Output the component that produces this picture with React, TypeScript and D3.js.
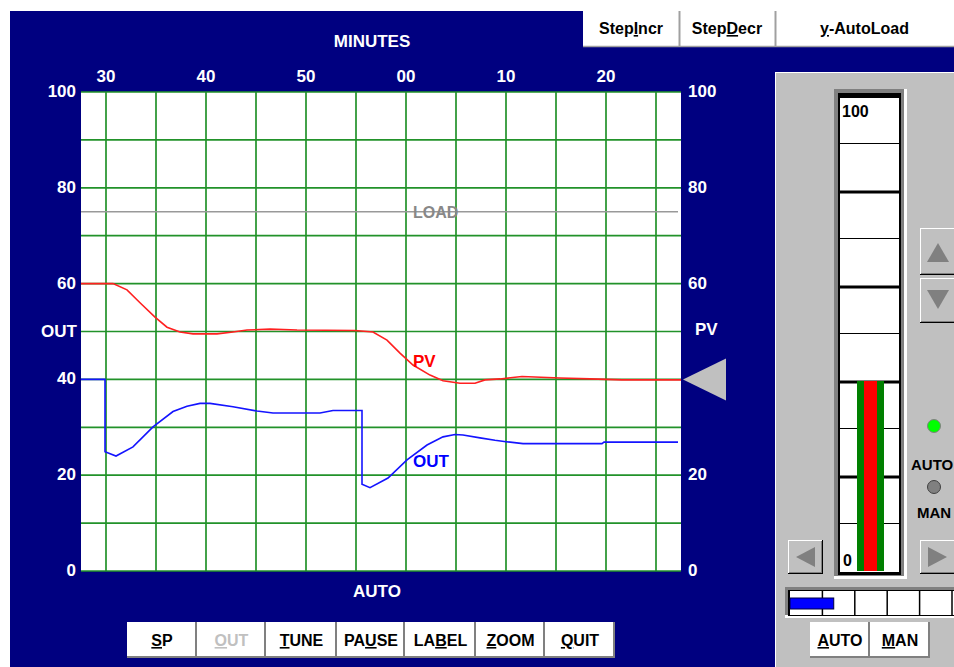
import { useEffect, useRef } from "react";
import * as d3 from "d3";

// time in minutes; values past 60 belong to the next hour (00, 10, 20)
const pvTime = [27.5, 30.7, 32.1, 33.4, 34.9, 36.1, 37.4, 38.7, 41.1, 42.7, 44.1, 46.4, 49.1, 54.9, 56.7, 58.1, 59.4, 60.7, 62.4, 63.7, 65.4, 66.9, 67.9, 69.4, 71.6, 75.4, 78.4, 81.6, 87.5];
const pvValue = [60, 60, 58.7, 56.0, 53.0, 50.9, 49.9, 49.5, 49.5, 49.9, 50.3, 50.5, 50.3, 50.2, 49.9, 48.2, 45.5, 43.0, 40.9, 39.7, 39.2, 39.2, 39.9, 40.1, 40.6, 40.3, 40.1, 39.9, 39.9];

const outTime = [27.5, 29.9, 29.9, 31.0, 32.7, 34.7, 36.7, 38.1, 39.4, 40.4, 42.7, 45.1, 46.7, 51.4, 52.7, 55.6, 55.6, 56.4, 58.2, 60.1, 62.1, 63.7, 64.9, 65.7, 67.4, 68.9, 70.0, 71.7, 79.6, 79.8, 87.2];
const outValue = [40, 40, 24.9, 24.0, 25.9, 30.1, 33.3, 34.4, 35.0, 35.0, 34.3, 33.4, 33.0, 33.0, 33.5, 33.5, 18.1, 17.4, 19.4, 23.2, 26.3, 28.0, 28.5, 28.4, 27.8, 27.3, 27.0, 26.6, 26.6, 26.9, 26.9];

const loadValue = 75;
const gaugeValue = 40;
const outBarValue = 27;

const minuteTicks = [30, 40, 50, 60, 70, 80];
const leftTicks = [0, 20, 40, 60, 80, 100];
const rightTicks = [0, 20, 60, 80, 100];

// label, index of the underlined letter, disabled
const topButtons: [string, number][] = [["StepIncr", 4], ["StepDecr", 4], ["y-AutoLoad", 0]];
const bottomButtons: [string, number, boolean][] = [
  ["SP", 0, false], ["OUT", 0, true], ["TUNE", 0, false], ["PAUSE", 2, false],
  ["LABEL", 2, false], ["ZOOM", 0, false], ["QUIT", 0, false],
];
const modeButtons: [string, number][] = [["AUTO", 0], ["MAN", 0]];

const FONT = "'Liberation Sans', Arial, sans-serif";
const NAVY = "#000080";
const GRID = "#22922a";

type Sel = d3.Selection<SVGGElement, unknown, null, undefined>;

function underlinedText(g: Sel, label: string, idx: number, x: number, y: number, size: number, fill: string) {
  const t = g
    .append("text")
    .attr("x", x)
    .attr("y", y)
    .attr("text-anchor", "middle")
    .attr("font-family", FONT)
    .attr("font-weight", "bold")
    .attr("font-size", size)
    .attr("fill", fill);
  if (idx > 0) t.append("tspan").text(label.slice(0, idx));
  t.append("tspan").style("text-decoration", "underline").text(label[idx]);
  t.append("tspan").text(label.slice(idx + 1));
}

function raised(g: Sel, x: number, y: number, w: number, h: number, face = "#c0c0c0") {
  g.append("rect").attr("x", x).attr("y", y).attr("width", w).attr("height", h).attr("fill", "#000");
  g.append("rect").attr("x", x).attr("y", y).attr("width", w - 1).attr("height", h - 1).attr("fill", "#fff");
  g.append("rect").attr("x", x + 1).attr("y", y + 1).attr("width", w - 2).attr("height", h - 2).attr("fill", "#808080");
  g.append("rect").attr("x", x + 1).attr("y", y + 1).attr("width", w - 3).attr("height", h - 3).attr("fill", face);
}

function sunken(g: Sel, x: number, y: number, w: number, h: number) {
  g.append("rect").attr("x", x).attr("y", y).attr("width", w).attr("height", h).attr("fill", "#fff");
  g.append("rect").attr("x", x).attr("y", y).attr("width", w - 3).attr("height", h - 3).attr("fill", "#808080");
}

export default function App() {
  const svgRef = useRef<SVGSVGElement>(null);

  useEffect(() => {
    if (!svgRef.current) return;
    d3.select(svgRef.current).selectAll("*").remove();
    const svg = d3.select(svgRef.current).append("g") as Sel;

    const x = d3.scaleLinear().domain([27.5, 87.5]).range([81, 681]);
    const y = d3.scaleLinear().domain([0, 100]).range([571, 92]);

    // background
    svg.append("rect").attr("x", 10).attr("y", 11).attr("width", 944).attr("height", 656).attr("fill", NAVY);

    // plot area
    svg.append("rect").attr("x", 81).attr("y", 92).attr("width", 600).attr("height", 479).attr("fill", "#fff");

    const grid = svg.append("g").attr("stroke", GRID).attr("stroke-width", 1.7);
    grid
      .selectAll("line.h")
      .data(d3.range(0, 101, 10))
      .enter()
      .append("line")
      .attr("x1", 81)
      .attr("x2", 681)
      .attr("y1", (d) => y(d))
      .attr("y2", (d) => y(d));
    grid
      .selectAll("line.v")
      .data(d3.range(30, 86, 5))
      .enter()
      .append("line")
      .attr("x1", (d) => x(d))
      .attr("x2", (d) => x(d))
      .attr("y1", 92)
      .attr("y2", 571);

    const label = (s: string, lx: number, ly: number, anchor = "start", fill = "#fff", size = 17) =>
      svg
        .append("text")
        .attr("x", lx)
        .attr("y", ly)
        .attr("text-anchor", anchor)
        .attr("font-family", FONT)
        .attr("font-weight", "bold")
        .attr("font-size", size)
        .attr("fill", fill)
        .text(s);

    label("MINUTES", 372, 47, "middle");
    minuteTicks.forEach((t) => label(String(t % 60).padStart(2, "0"), x(t), 82, "middle"));
    leftTicks.forEach((v) => label(String(v), 76, y(v) + 5, "end"));
    label("OUT", 77, y(50) + 5, "end");
    rightTicks.forEach((v) => label(String(v), 688, y(v) + 5));
    label("PV", 695, y(50) + 3);
    label("AUTO", 377, 597, "middle");

    // load line
    svg
      .append("line")
      .attr("x1", 81)
      .attr("x2", 678)
      .attr("y1", y(loadValue))
      .attr("y2", y(loadValue))
      .attr("stroke", "#999")
      .attr("stroke-width", 1.5);
    label("LOAD", 413, y(loadValue) + 6, "start", "#888", 16);

    const seriesLine = d3
      .line<[number, number]>()
      .x((d) => x(d[0]))
      .y((d) => y(d[1]));

    svg
      .append("path")
      .attr("d", seriesLine(pvTime.map((t, i) => [t, pvValue[i]])) || "")
      .attr("fill", "none")
      .attr("stroke", "#ff2020")
      .attr("stroke-width", 1.6);
    svg
      .append("path")
      .attr("d", seriesLine(outTime.map((t, i) => [t, outValue[i]])) || "")
      .attr("fill", "none")
      .attr("stroke", "#1414ff")
      .attr("stroke-width", 1.6);

    label("PV", 413, 367, "start", "#ff0000", 17);
    label("OUT", 413, 467, "start", "#0000ff", 17);

    // pointer triangle
    const py = y(gaugeValue);
    svg
      .append("path")
      .attr("d", `M683,${py} L726,${py - 21} L726,${py + 21} Z`)
      .attr("fill", "#c0c0c0");

    // top toolbar buttons
    const topEdges = [583, 679, 775, 954];
    svg.append("rect").attr("x", 583).attr("y", 11).attr("width", 371).attr("height", 36).attr("fill", "#fff");
    svg.append("line").attr("x1", 583).attr("x2", 954).attr("y1", 46.5).attr("y2", 46.5).attr("stroke", "#a0a0a0").attr("stroke-width", 1.5);
    topButtons.forEach(([s, idx], i) => {
      if (i > 0)
        svg
          .append("line")
          .attr("x1", topEdges[i] + 0.5)
          .attr("x2", topEdges[i] + 0.5)
          .attr("y1", 11)
          .attr("y2", 47)
          .attr("stroke", "#a0a0a0")
          .attr("stroke-width", 2);
      underlinedText(svg, s, idx, (topEdges[i] + topEdges[i + 1]) / 2, 34, 16, "#000");
    });

    // bottom buttons
    const botEdges = [127, 197, 266, 337, 405, 476, 545, 615];
    bottomButtons.forEach(([s, idx, disabled], i) => {
      const bx = botEdges[i];
      const w = botEdges[i + 1] - bx;
      svg.append("rect").attr("x", bx).attr("y", 622).attr("width", w).attr("height", 36).attr("fill", "#808080");
      svg.append("rect").attr("x", bx).attr("y", 622).attr("width", w - 2).attr("height", 34).attr("fill", "#fff");
      underlinedText(svg, s, idx, bx + w / 2, 646, 16, disabled ? "#c0c0c0" : "#000");
    });

    // faceplate panel
    svg.append("rect").attr("x", 775).attr("y", 72).attr("width", 179).attr("height", 595).attr("fill", "#fff");
    svg.append("rect").attr("x", 776).attr("y", 73).attr("width", 178).attr("height", 594).attr("fill", "#c0c0c0");

    // vertical gauge
    const gy = d3.scaleLinear().domain([0, 100]).range([571, 96]);
    sunken(svg, 834, 89, 73, 490);
    svg.append("rect").attr("x", 838).attr("y", 93).attr("width", 63).attr("height", 482).attr("fill", "#000");
    svg.append("rect").attr("x", 840).attr("y", 98).attr("width", 59).attr("height", 474).attr("fill", "#fff");
    d3.range(10, 100, 10).forEach((v) => {
      const thick = v % 20 === 0;
      svg
        .append("line")
        .attr("x1", 840)
        .attr("x2", 899)
        .attr("y1", gy(v) + (thick ? 1 : 0))
        .attr("y2", gy(v) + (thick ? 1 : 0))
        .attr("stroke", "#000")
        .attr("stroke-width", thick ? 3 : 1.2);
    });
    svg.append("rect").attr("x", 857).attr("y", gy(gaugeValue)).attr("width", 7).attr("height", gy(0) - gy(gaugeValue)).attr("fill", "#008000");
    svg.append("rect").attr("x", 864).attr("y", gy(gaugeValue)).attr("width", 13).attr("height", gy(0) - gy(gaugeValue)).attr("fill", "#ff0000");
    svg.append("rect").attr("x", 877).attr("y", gy(gaugeValue)).attr("width", 7).attr("height", gy(0) - gy(gaugeValue)).attr("fill", "#008000");
    label("100", 842, 117, "start", "#000", 16);
    label("0", 843, 566, "start", "#000", 16);

    // up / down buttons
    raised(svg, 920, 228, 40, 47);
    svg.append("path").attr("d", "M927,262 L938,243 L949,262 Z").attr("fill", "#808080");
    raised(svg, 920, 278, 40, 45);
    svg.append("path").attr("d", "M927,290 L938,309 L949,290 Z").attr("fill", "#808080");

    // left / right buttons
    raised(svg, 788, 540, 35, 34);
    svg.append("path").attr("d", "M796,557 L815,547 L815,567 Z").attr("fill", "#808080");
    raised(svg, 920, 540, 40, 34);
    svg.append("path").attr("d", "M928,547 L947,557 L928,567 Z").attr("fill", "#808080");

    // mode lamps
    svg.append("circle").attr("cx", 934).attr("cy", 426).attr("r", 6.5).attr("fill", "#00ff00").attr("stroke", "#808080");
    label("AUTO", 911, 470, "start", "#000", 15);
    svg.append("circle").attr("cx", 934).attr("cy", 487).attr("r", 6.5).attr("fill", "#808080").attr("stroke", "#404040");
    label("MAN", 917, 518, "start", "#000", 15);

    // horizontal output bar
    const hx = d3.scaleLinear().domain([0, 100]).range([790, 952]);
    sunken(svg, 785, 587, 172, 31);
    svg.append("rect").attr("x", 788).attr("y", 590).attr("width", 168).attr("height", 26).attr("fill", "#000");
    svg.append("rect").attr("x", 790).attr("y", 591).attr("width", 164).attr("height", 24).attr("fill", "#fff");
    [20, 40, 60, 80, 100].forEach((v) =>
      svg
        .append("line")
        .attr("x1", hx(v))
        .attr("x2", hx(v))
        .attr("y1", 591)
        .attr("y2", 615)
        .attr("stroke", "#000")
        .attr("stroke-width", 1.5)
    );
    svg
      .append("rect")
      .attr("x", hx(0))
      .attr("y", 598)
      .attr("width", hx(outBarValue) - hx(0))
      .attr("height", 11)
      .attr("fill", "#0000ff")
      .attr("stroke", "#000040");

    // auto / man buttons
    modeButtons.forEach(([s, idx], i) => {
      const bx = 810 + i * 60;
      svg.append("rect").attr("x", bx).attr("y", 622).attr("width", 60).attr("height", 36).attr("fill", "#808080");
      svg.append("rect").attr("x", bx).attr("y", 622).attr("width", 58).attr("height", 34).attr("fill", "#fff");
      underlinedText(svg, s, idx, bx + 30, 646, 16, "#000");
    });
  }, []);

  return (
    <div style={{ position: "absolute", left: 0, top: 0, width: 954, height: 667, background: "#fff" }}>
      <svg ref={svgRef} width={954} height={667} />
    </div>
  );
}
